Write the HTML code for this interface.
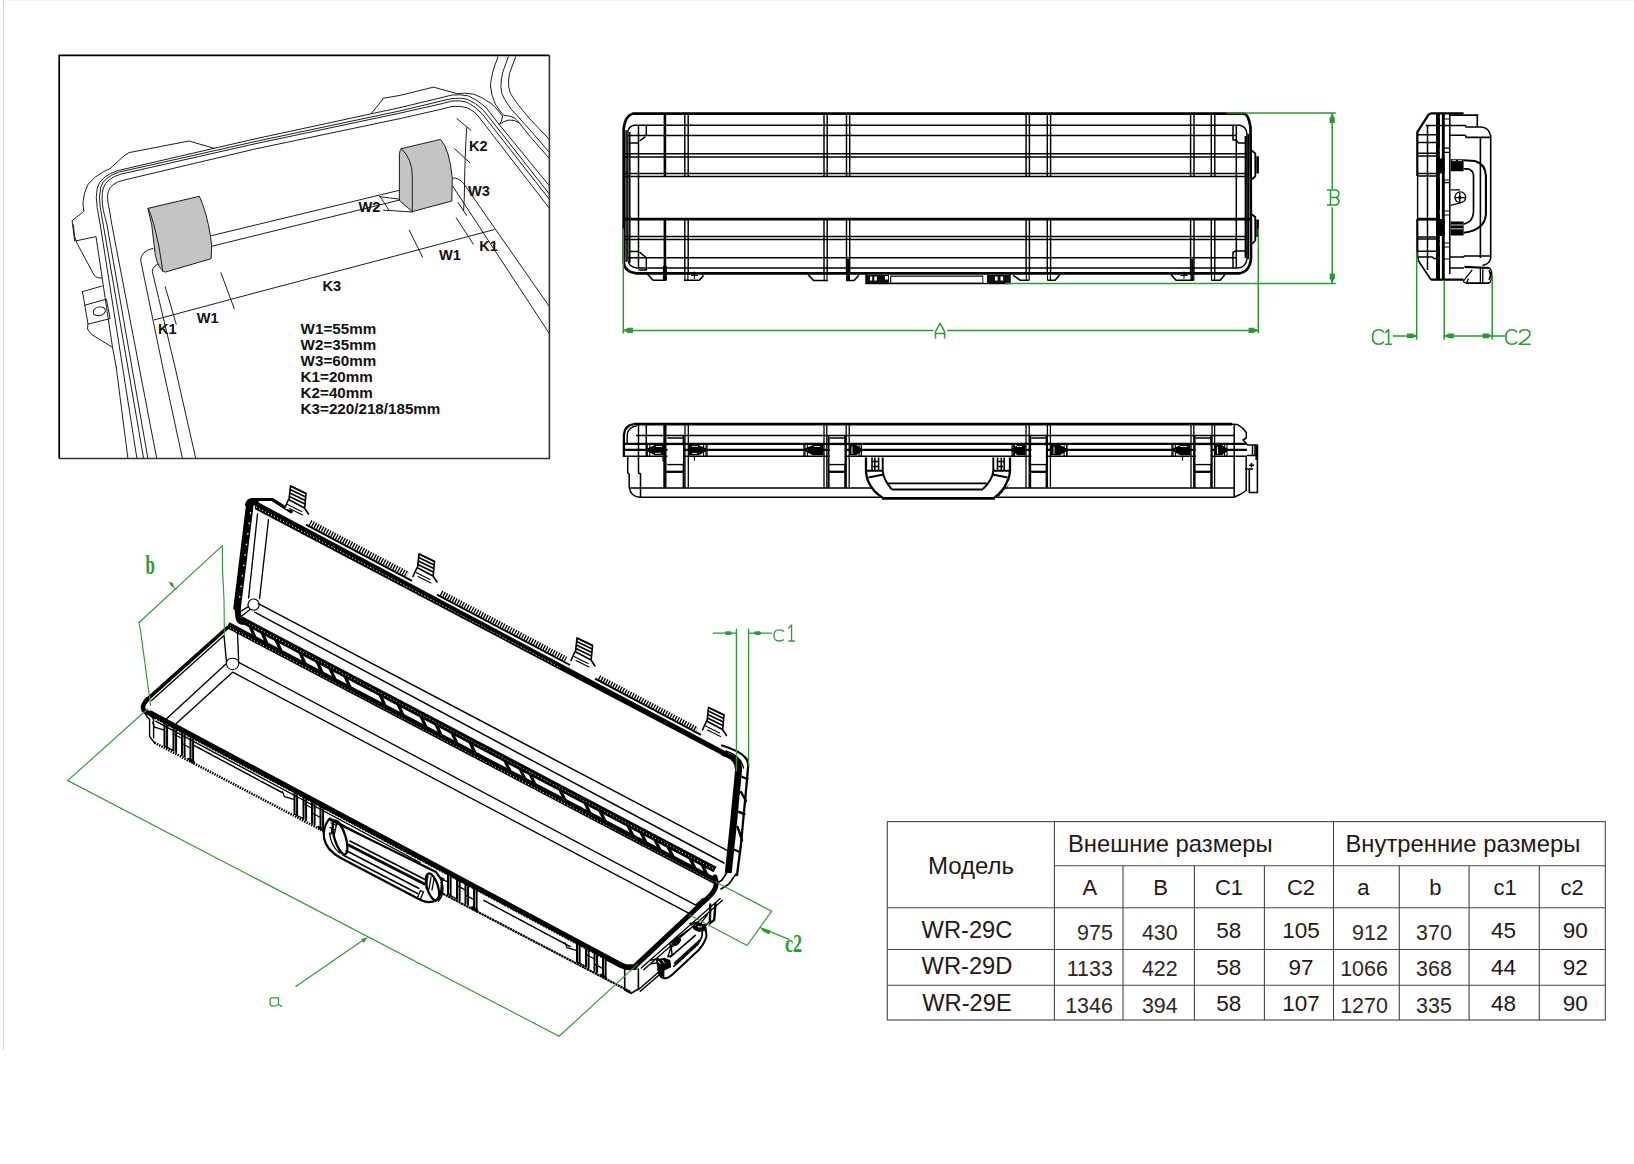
<!DOCTYPE html>
<html><head><meta charset="utf-8"><title>WR-29 dimensions</title>
<style>
html,body{margin:0;padding:0;background:#fff;}
body{width:1634px;height:1164px;overflow:hidden;font-family:"Liberation Sans",sans-serif;}
svg{display:block;position:absolute;left:0;top:0;}
svg{font-family:"Liberation Sans",sans-serif;}
</style></head><body>
<svg width="1634" height="1164" viewBox="0 0 1634 1164">
<!-- misc -->
<line x1="3.5" y1="0" x2="3.5" y2="1050" stroke="#d2d2d2" stroke-width="1"/><line x1="4" y1="0.5" x2="1634" y2="0.5" stroke="#f4f4f4" stroke-width="1"/>
<!-- inset -->
<defs><clipPath id="insclip"><rect x="59.2" y="55.3" width="490.2" height="403.2"/></clipPath></defs>
<g id="inset" clip-path="url(#insclip)" fill="none" stroke="#111" stroke-width="0.95" stroke-linecap="round" stroke-linejoin="round">
<path d="M 214.1 148.3 L 189 141 L 129.1 152.6 L 124.2 155.7 L 110.1 168.5 L 102.7 172.2 Q 94.2 176.5 88 184.5 Q 83.8 191.8 82.9 202.8 L 83.8 211.4 L 72.1 220.6 L 74.6 240.8 M 73.4 225 L 74.6 236 L 77 243.4 L 94.2 275.2 Q 96 277.9 101.5 278.2 M 75.8 240.9 L 96 236.6 L 112.5 347.4 L 116.2 367 M116.2 367 L128 459 M137 459 L100.3 225 L 97.2 207.7 Q 95.4 196.7 97.2 188.1 Q 100.3 175.9 118.6 170.4 L 214.1 148.3 L 255 138.9 L 400 107.6 L 440 98 L 452 95 Q 459.8 94.1 468.3 95.9 Q 477.3 99.8 485.7 107.1 L 489.9 112.5 L 499.2 124.5 L549.3 185.8 M143.7 459 L103.3 225 L 100.3 207.7 Q 98.1 196.7 100.9 186.9 Q 104 177.1 118.6 172.2 L 255 141.6 L 400 110.9 L 440 101.3 L 452 98.6 Q 459.8 97.6 467.1 99.2 Q 476.1 102.9 483.3 110.1 L 488.1 116.1 L549.3 194 M148 459 L107 225 L 103.3 210.2 Q 100.9 196.7 103.3 188.1 Q 106.4 178.3 121.1 174.1 L 255 143.8 L 400 113.1 L 440 104.1 L 452 101 Q 459.8 100.1 467.1 102.3 Q 475.5 106.5 482.1 113.7 L549.3 199.2 M156.8 459 L111.9 225 L 109.5 210.2 Q 106.4 197.9 108.2 191.8 Q 110.7 183.2 123.5 180.2 L 255 149 L 400 118.6 L 440 109.5 L 452 106.5 Q 459.8 105.6 467.1 107.7 Q 474.3 111.3 477.3 114.9 L549.3 208.2 M 452.6 178 Q 458.8 177.4 463.6 183.5 L549.3 306.5 M 452.6 186 L549.3 333.5 M 497.9 56.8 L 493 70.9 L 491.1 80 L 490.5 86 Q 491.1 95 495.3 104.1 L 500.7 111.9 L 503.7 115.2 L 509.2 116.1 L 514 117.6 Q 516.4 119.1 518.8 122.4 L 530 136.5 L549.3 158.4 M 508.3 56.8 L 502.8 72.1 L 501.3 80 Q 500.1 86 501.9 93.8 Q 504.9 101 511 108.9 L 530 129.9 L549.3 152.3 M 515.7 56.8 L 509.5 73.4 L 508.6 80 Q 508 87.2 510.4 93.2 Q 514 100.4 530 119.1 L549.3 139.5 M 502.5 116.1 L 501.9 119.1 L 501.3 121.5 L 499.2 124.5 Q 503.7 120.9 509.2 120 L 514.6 120.6 L 517.6 122.4 L 518.8 122.4 M 371.3 113.5 L 382.3 100 L383 98.3 L 400 95.4 L 433.7 87.1 L 440 89 L 456.8 93.5 Q 464.1 92.7 473.7 94.1 Q 482.1 97.1 491.1 103.5 Q 497.7 108.9 502.5 116.1 M 82.5 291.7 L 102.1 286 M 82.5 291.7 L 88 324.1 L 110.1 318.6 L 106.4 299.1 L 85 305.2 M 88 324.1 L 87.4 329 L 91.7 334.5 L 112.5 347.4 M 152.9 248.3 Q 140.7 251.3 140.7 260.5 L 162.7 367 L182.6 459 M 160.3 262.9 Q 152.3 266 152.3 271.5 L 175 367 L195.9 459 M 210.4 235.9 L 399.4 190.3 M211.5 246.3 L 399.4 200.1 M 154.1 319.9 L 255 292.9 L 400 254.7 L 494.2 229.6 M 165.2 286.8 L 176.2 324.1 M 220.9 272.7 L 234.3 308.8 M 409.2 230.2 L 422.6 257.1 M 456.3 217.9 L 473.4 244.3 M 458.1 202.6 L 466.7 215.5 M 466.7 127.8 Q 464.9 152.9 464.3 197 L 463.6 210.6 M 456.9 118.6 L 471 130.3 M 454.5 148.6 L 469.8 162.7 M 379.8 196.1 L 389 210.2 M 379.8 196.7 L 389.6 197.9 L 399.4 199.1 M 383.5 210.2 L 394.5 210.8 L 412.3 212"/>
<ellipse cx="99.3" cy="311.3" rx="6.2" ry="4.3" transform="rotate(-14 99.3 311.3)"/>
<path fill="#c4c4c4" d="M148.3 208.3 L199.4 196.3 Q 206.8 212.6 210.4 235.9 L 211.7 245.8 L 211.1 258.7 L 165.2 272.1 Q 159 270.3 155.4 255.6 L 151.7 225 Z"/>
<path d="M 148.3 208.3 Q 154.1 222.4 157.8 242 L 158.4 243.4 Q 161.5 261.7 162.7 271.3"/>
<path fill="#c4c4c4" d="M 401.3 148.7 L 440.4 139.4 Q 449.6 149 452.3 178.3 L 451.8 201 L 412.3 211.6 L 399.4 200.4 L 399.4 153.9 Q 399.7 150.2 401.3 148.7 Z"/>
<path d="M 401.3 148.7 Q 412.3 158.8 412.3 175.9 L 412.3 211.6"/>
</g>
<path d="M59.2 458.5 V55.3 H549.4" fill="none" stroke="#000" stroke-width="1.7"/>
<path d="M549.4 55.3 V458.5 H59.2" fill="none" stroke="#333" stroke-width="1.6"/>
<g font-family="Liberation Sans, sans-serif" font-weight="bold" font-size="14.6px" fill="#111">
<text x="469" y="151">K2</text>
<text x="468" y="195.5">W3</text>
<text x="358.5" y="212">W2</text>
<text x="479.3" y="250.5">K1</text>
<text x="439" y="260.3">W1</text>
<text x="322.5" y="290.8">K3</text>
<text x="158" y="334">K1</text>
<text x="196.8" y="323">W1</text>
</g>
<g font-family="Liberation Sans, sans-serif" font-weight="bold" font-size="15.2px" fill="#111">
<text x="300.6" y="333.9">W1=55mm</text>
<text x="300.6" y="349.83">W2=35mm</text>
<text x="300.6" y="365.76">W3=60mm</text>
<text x="300.6" y="381.69">K1=20mm</text>
<text x="300.6" y="397.62">K2=40mm</text>
<text x="300.6" y="413.55">K3=220/218/185mm</text>
</g>
<!-- topview -->
<g id="top" fill="none" stroke="#000" stroke-width="1.5" stroke-linecap="butt" stroke-linejoin="round">
<path stroke-width="2.7" d="M632.6 113.7 H1243.6 Q1248.5 114 1250.5 127.4 L1251 258 Q1250 272 1238.8 273.4 H636.5 Q624.5 272 623.7 262 V128.4 Q625 116 632.6 113.7Z"/>
<path stroke-width="1.5" d="M634.6 125.3 H1240 Q1246.5 127 1247 134 V259 Q1246 267 1238 268 H637 Q628.5 267 627.9 260 V131.3 Q629 126 634.6 125.3Z"/>
<path d="M626.1 130 V262 M629.8 132 V263 M638.5 126 V268 M1236.3 126 V268 M1248.3 134 V259" />
<path stroke-width="2" d="M1245.6 136 V258"/>
<line x1="628" y1="135.5" x2="1236.3" y2="135.5" stroke-width="1.6"/>
<line x1="628" y1="257.8" x2="1236.3" y2="257.8" stroke-width="1.6"/>
<line x1="624" y1="153.7" x2="1247" y2="153.7" stroke-width="1.5"/>
<line x1="624" y1="156.9" x2="1247" y2="156.9" stroke-width="1.5"/>
<line x1="624" y1="173.4" x2="1247" y2="173.4" stroke-width="1.5"/>
<line x1="624" y1="176.5" x2="1247" y2="176.5" stroke-width="1.5"/>
<line x1="624" y1="236.5" x2="1247" y2="236.5" stroke-width="1.5"/>
<line x1="624" y1="239.5" x2="1247" y2="239.5" stroke-width="1.5"/>
<line x1="624" y1="219.1" x2="1250" y2="219.1" stroke-width="2.8"/>
<path d="M684.8 114 V176.3 M684.8 219 V273.4" stroke-width="1.45"/>
<path d="M688.2 114 V176.3 M688.2 219 V273.4" stroke-width="1.45"/>
<path d="M824 114 V176.3 M824 219 V273.4" stroke-width="1.45"/>
<path d="M827.2 114 V176.3 M827.2 219 V273.4" stroke-width="1.45"/>
<path d="M846.5 114 V176.3 M846.5 219 V273.4" stroke-width="1.45"/>
<path d="M849.7 114 V176.3 M849.7 219 V273.4" stroke-width="1.45"/>
<path d="M1026.1 114 V176.3 M1026.1 219 V273.4" stroke-width="1.45"/>
<path d="M1029.4 114 V176.3 M1029.4 219 V273.4" stroke-width="1.45"/>
<path d="M1047.3 114 V176.3 M1047.3 219 V273.4" stroke-width="1.45"/>
<path d="M1050.6 114 V176.3 M1050.6 219 V273.4" stroke-width="1.45"/>
<path d="M1190.6 114 V176.3 M1190.6 219 V273.4" stroke-width="1.45"/>
<path d="M1194 114 V176.3 M1194 219 V273.4" stroke-width="1.45"/>
<path d="M1211.3 114 V176.3 M1211.3 219 V273.4" stroke-width="1.45"/>
<path d="M1214.8 114 V176.3 M1214.8 219 V273.4" stroke-width="1.45"/>
<path d="M664.9 114 V176.3 M664.9 219 V273.4" stroke-width="2.6"/>
<path stroke-width="1.5" d="M646.3 126 V135.5 M628.5 143.1 H638.5 M639.5 141 L645.5 136.7 M628.5 251.4 H638.5 M639.5 252 L646.3 257.8 V270 H638.5"/>
<path stroke-width="1.5" d="M1233 126 V140 H1236 L1238.5 143 H1246 M1233 268 V252 L1236 251 H1246"/>
<path stroke-width="1.8" d="M1251 150 L1255.3 153.4 V176.4 L1252 179.3 M1251 213.7 L1255.3 217 V240.5 L1252 244"/>
<path stroke-width="2.6" d="M1257.6 156.3 V173.4 M1257.6 219.5 V237"/>
<path stroke-width="1.6" d="M647.3 274 L653.2 280.3 H666 M684 280.3 H699.2 L703.6 275.4 M808 274.5 L813.5 280.5 H827.8 M846.1 280.5 H854.1 L858.9 275.3 M1013.2 275.3 L1020.4 280.3 H1029.2 M1047.5 280.3 H1055 L1060 274.5 M1171 274.5 L1176 280.3 H1193.9 M1211.5 280.3 H1220.2 L1225 274.5"/>
<path d="M684.9 273 V280.5" stroke-width="1.1"/>
<path d="M687.9 273 V280.5" stroke-width="1.1"/>
<path d="M824.2 273 V280.5" stroke-width="1.1"/>
<path d="M827 273 V280.5" stroke-width="1.1"/>
<path d="M846.6 273 V280.5" stroke-width="1.1"/>
<path d="M849.5 273 V280.5" stroke-width="1.1"/>
<path d="M1026.3 273 V280.5" stroke-width="1.1"/>
<path d="M1029.2 273 V280.5" stroke-width="1.1"/>
<path d="M1047.5 273 V280.5" stroke-width="1.1"/>
<path d="M1050.4 273 V280.5" stroke-width="1.1"/>
<path d="M1191 273 V280.5" stroke-width="1.1"/>
<path d="M1193.9 273 V280.5" stroke-width="1.1"/>
<path d="M1211.5 273 V280.5" stroke-width="1.1"/>
<path d="M1214.6 273 V280.5" stroke-width="1.1"/>
<path d="M664.9 266 V280.5" stroke-width="4"/>
<path d="M848.2 259 V280" stroke-width="2.2"/><path d="M1192.3 259 V280" stroke-width="2.2"/>
<path stroke-width="1" d="M694.3 271.5 V279 M691 275.4 H698 M1184 271.5 V279 M1180.5 275.4 H1187.5 M828.6 273 H839.8 M1037 273 H1048"/>
<rect x="866" y="273.3" width="144" height="10.3" stroke-width="1.5"/>
<rect x="890.7" y="276.1" width="92.3" height="7.2" stroke-width="1.1"/>
<path stroke="none" fill="#111" d="M866 275 H889 V283.6 H866Z M987 275 H1010 V283.6 H987Z"/>
<path stroke="none" fill="#fff" d="M870 276.5 h2.2 v4 h-2.2z M874.3 276.5 h2.6 v4 h-2.6z M885 276 h3 v3.5 h-3z M995 276.5 h2.6 v4 h-2.6z M1000.5 276.5 h2.6 v4 h-2.6z M983.5 276 h3 v6.5 h-3z"/>
</g>
<g id="topdim" fill="none" stroke="#2c9a33" stroke-width="1.5">
<path d="M623.3 228.4 V333.6 M1258.3 228.4 V333.6 M623.3 330.4 H933.3 M947.1 330.4 H1258.3"/>
<path d="M1226.5 113 H1335.8 M1005.5 283.4 H1335.8 M1332.2 113 V189.5 M1332.2 207.2 V283.4"/>
<path fill="#2c9a33" stroke="none" d="M624.0 329.7 L627.0 328.8 L627.6 327.8 L633.0 327.8 L633.0 333.0 L627.6 333.0 L627.0 332.0 L624.0 331.1Z M1257.6 331.1 L1254.6 332.0 L1254.0 333.0 L1248.6 333.0 L1248.6 327.8 L1254.0 327.8 L1254.6 328.8 L1257.6 329.7Z M1332.9 114.0 L1333.8 117.0 L1334.8 117.6 L1334.8 123.0 L1329.6 123.0 L1329.6 117.6 L1330.6 117.0 L1331.5 114.0Z M1331.5 282.6 L1330.6 279.6 L1329.6 279.0 L1329.6 273.6 L1334.8 273.6 L1334.8 279.0 L1333.8 279.6 L1332.9 282.6Z"/>
<path stroke-width="1.5" stroke-linejoin="round" d="M935.5 338.5 V331.7 L940.2 323.3 L944.6 331.7 V338.5 M935.5 333.5 H944.6"/>
<path stroke-width="1.5" stroke-linejoin="round" d="M1327 189.9 H1336 Q1338.9 190.5 1338.9 193.6 Q1338.9 197 1335.5 197.6 H1330.5 M1335.5 197.6 Q1338.9 198.4 1338.9 201.3 Q1338.9 204.5 1336 204.9 H1327 M1330.5 189.9 V204.9"/>
</g>
<!-- sideview -->
<g id="side" fill="none" stroke="#000" stroke-width="1.6" stroke-linejoin="round">
<path stroke-width="2.2" d="M1417.3 176 V132.2 L1428.4 114.8 L1431 113.4 H1463.6 M1417.3 219 V253.5"/>
<path stroke-width="1.4" d="M1417.6 176 V219"/>
<path stroke-width="1.6" d="M1417.2 253 L1418.5 261 L1431 279.7"/>
<path stroke-width="2.3" d="M1431 279.7 H1463.6"/>
<path stroke-width="4" d="M1438 114 V279"/>
<path stroke-width="2.9" d="M1443.3 114 V279"/>
<path stroke-width="1.5" d="M1449.8 114 V274"/>
<path stroke="none" fill="#000" d="M1436 158.5 H1444.7 V173.5 H1436Z M1436 219 H1444.7 V236 H1436Z"/>
<path stroke-width="1.5" d="M1427.5 125.4 V270 M1425.8 125.4 H1465.3 L1466.2 127.1 H1481.6 Q1489 128 1490.2 135.2 M1417.5 134.8 H1437 M1417.5 142.5 H1437 M1417.5 153.3 H1437 M1417.5 155.9 H1437 M1417.5 173.6 H1437 M1417.5 176.1 H1437 M1417.5 237.1 H1437 M1417.5 238.9 H1437 M1417.5 251.3 H1437 M1417.5 256.9 H1432 L1434 258.5 H1437"/>
<path stroke-width="2.8" d="M1417 219.2 H1437.8"/>
<path stroke-width="1.6" d="M1449.8 115.1 H1478.2 M1477.3 115.1 V126.8 M1449.8 135.2 H1465.3 L1466.2 137.4 H1490.2 M1480.4 137.4 V258 M1490.7 135 V258 Q1490 264 1482.5 265.5"/>
<path stroke-width="1.5" d="M1449.8 256.9 H1463.6 L1464.5 256 H1490.5 M1449.8 268 H1464"/>
<path stroke-width="1.2" d="M1444 119 H1449.5 M1444 148.2 H1449.5 M1444 152.4 H1449.5 M1444 180 H1449.5 M1444 182.6 H1449.5 M1444 211 H1449.5 M1444 215 H1449.5 M1444 243 H1449.5 M1444 247 H1449.5 M1444 259 H1449.5"/>
<path stroke-width="1" stroke="#fff" d="M1440.3 116 V118.5 M1440.3 148 V152 M1440.3 153.5 V156 M1440.3 174.5 V178 M1440.3 210 V214 M1440.3 237 V240 M1440.3 242 V246"/>
<path stroke="none" fill="#000" d="M1450.7 159.3 H1463.6 V171.3 H1450.7Z M1450.7 221.6 H1463.6 V235.4 H1450.7Z"/>
<path stroke="#fff" stroke-width="0.8" d="M1452 160.6 H1456 M1458 160.6 H1462 M1451 225 H1463 M1451 228.8 H1463"/>
<path stroke-width="2.1" d="M1463.6 160.3 L1475 161 Q1485.5 164 1485.9 176 V214 Q1485 230 1463.6 232.8"/>
<path stroke-width="1.7" d="M1463.6 168.8 H1468 Q1473 170 1473.5 175 V212.2 Q1473 222 1463.6 224.2"/>
<path stroke-width="1.3" d="M1450.7 189.8 H1460 M1450.7 205.3 L1460.5 202.8"/>
<circle cx="1460.3" cy="197.3" r="5.4" stroke-width="1.3"/>
<path stroke-width="1.4" d="M1455 197.6 H1465.5 M1459.8 192.5 V202.5"/>
<circle cx="1459.8" cy="197.6" r="1.8" fill="#000" stroke="none"/>
<path stroke-width="2.2" d="M1464.4 266.8 L1489.5 268"/>
<path stroke-width="1.8" d="M1466 283.1 H1489.4"/>
<path stroke-width="1.3" d="M1489.5 268 Q1492.5 271 1491.6 275.5 Q1491.5 281 1489.4 283.1 M1472.2 269.8 L1464.5 279.7 M1464.5 279.7 Q1462 282 1466 283.1 M1468.5 278.5 L1466.5 283 M1480.4 268 V283 M1482.8 268 V283 M1489 270 L1491.5 279 M1491.5 271 L1489 280"/>
</g>
<g id="sidedim" fill="none" stroke="#2c9a33" stroke-width="1.5">
<path d="M1416.7 252.6 V339.8 M1444.2 280.6 V339.8 M1492.2 274.9 V339.8 M1393 335.9 H1416.7 M1444.2 335.9 H1505.4"/>
<path fill="#2c9a33" stroke="none" d="M1416.0 336.6 L1413.5 337.5 L1413.0 338.3 L1407.0 338.3 L1407.0 333.5 L1413.0 333.5 L1413.5 334.3 L1416.0 335.2Z M1445.0 335.2 L1447.5 334.3 L1448.0 333.5 L1454.0 333.5 L1454.0 338.3 L1448.0 338.3 L1447.5 337.5 L1445.0 336.6Z M1491.5 336.6 L1489.0 337.5 L1488.5 338.3 L1482.5 338.3 L1482.5 333.5 L1488.5 333.5 L1489.0 334.3 L1491.5 335.2Z"/>
<path stroke-width="1.6" stroke-linejoin="round" d="M1383.7 332.5 Q1382.5 329.8 1378.5 329.8 Q1372.6 329.8 1372.6 337 Q1372.6 344.2 1378.5 344.2 Q1382.5 344.2 1383.7 341.5 M1385 333 L1388.6 329.8 V344.2 M1385 344.2 H1392"/>
<path stroke-width="1.6" stroke-linejoin="round" d="M1517 332.5 Q1515.8 329.8 1511.8 329.8 Q1505.9 329.8 1505.9 337 Q1505.9 344.2 1511.8 344.2 Q1515.8 344.2 1517 341.5 M1519.6 333.2 Q1520 329.8 1524.8 329.8 Q1530 329.8 1530 334 Q1530 337.2 1519.3 344.2 H1530.7"/>
</g>
<!-- frontview -->
<g id="front" fill="none" stroke="#000" stroke-width="1.5" stroke-linejoin="round">
<path stroke-width="2.8" d="M633.6 424.2 H1232"/>
<path stroke-width="2.3" d="M623.9 457 V434.6 Q625 425.5 633.6 424.2"/>
<path stroke-width="1.4" d="M627.2 443 V434.5 Q628.5 427 636.5 426"/>
<path stroke-width="1.6" d="M636 435.5 H1234 M624 456.3 H1247"/>
<path stroke-width="2.2" d="M624 443.9 H1247"/>
<path stroke-width="2.4" d="M624 449.9 H1247"/>
<path stroke-width="1.5" d="M627.7 457 V472.8 L629.2 474 V487.5 Q630.5 496 639.5 497.3 H1234 M638.5 425 V472.8 L640.5 474 V497.3 M646.3 425 V457 M629.2 488 H1234.5"/>
<path stroke-width="3.2" d="M664.9 425 V488"/>
<path stroke-width="1.3" d="M685 425 V488"/>
<path stroke-width="1.3" d="M688.3 425 V488"/>
<path stroke-width="1.3" d="M824 425 V488"/>
<path stroke-width="1.3" d="M826.8 425 V488"/>
<path stroke-width="1.3" d="M846.2 425 V488"/>
<path stroke-width="1.3" d="M849.2 425 V488"/>
<path stroke-width="1.3" d="M1026 425 V488"/>
<path stroke-width="1.3" d="M1029.2 425 V488"/>
<path stroke-width="1.3" d="M1047.4 425 V488"/>
<path stroke-width="1.3" d="M1050.4 425 V488"/>
<path stroke-width="1.3" d="M1191 425 V488"/>
<path stroke-width="1.3" d="M1193.8 425 V488"/>
<path stroke-width="1.3" d="M1212 425 V488"/>
<path stroke-width="1.3" d="M1214.6 425 V488"/>
<path stroke-width="2" d="M828.6 436 V488"/>
<path stroke-width="2" d="M845.2 436 V488"/>
<path stroke-width="2" d="M1030.2 436 V488"/>
<path stroke-width="2" d="M1046.6 436 V488"/>
<path stroke-width="2" d="M1194.6 436 V488"/>
<path stroke-width="2" d="M1211.2 436 V488"/>
<path stroke-width="2" d="M683.6 436 V488"/>
<path stroke-width="1.5" d="M667.3 438 H683.2 M667.3 444.4 H683.2 M667.3 464.5 H683.2"/>
<path stroke-width="2.3" d="M665.8 471.8 H684.7"/>
<path stroke="none" fill="#fff" d="M667.5 445.4 H683 V463.6 H667.5 Z"/>
<path stroke-width="1.5" d="M829.6 438 H844.6 M829.6 444.4 H844.6 M829.6 464.5 H844.6"/>
<path stroke-width="2.3" d="M828.1 471.8 H846.1"/>
<path stroke="none" fill="#fff" d="M829.8 445.4 H844.4 V463.6 H829.8 Z"/>
<path stroke-width="1.5" d="M1031.2 438 H1046 M1031.2 444.4 H1046 M1031.2 464.5 H1046"/>
<path stroke-width="2.3" d="M1029.7 471.8 H1047.5"/>
<path stroke="none" fill="#fff" d="M1031.4 445.4 H1045.8 V463.6 H1031.4 Z"/>
<path stroke-width="1.5" d="M1195.6 438 H1210.6 M1195.6 444.4 H1210.6 M1195.6 464.5 H1210.6"/>
<path stroke-width="2.3" d="M1194.1 471.8 H1212.1"/>
<path stroke="none" fill="#fff" d="M1195.8 445.4 H1210.4 V463.6 H1195.8 Z"/>
<path stroke="none" fill="#000" d="M665 444.9 H654.734 L647.3 448.6 V451.2 L654.734 455.2 H665 Z"/>
<path stroke-width="1.1" d="M647.3 444.4 V456 M649.7 444.4 V456"/>
<path stroke="none" fill="#000" d="M689 444.9 H698.86 L706 448.6 V451.2 L698.86 455.2 H689 Z"/>
<path stroke-width="1.1" d="M706 444.4 V456 M703.6 444.4 V456"/>
<path stroke="none" fill="#000" d="M823.5 444.9 H812.77 L805 448.6 V451.2 L812.77 455.2 H823.5 Z"/>
<path stroke-width="1.1" d="M805 444.4 V456 M807.4 444.4 V456"/>
<path stroke="none" fill="#000" d="M849.5 444.9 H856.46 L861.5 448.6 V451.2 L856.46 455.2 H849.5 Z"/>
<path stroke-width="1.1" d="M861.5 444.4 V456 M859.1 444.4 V456"/>
<path stroke="none" fill="#000" d="M1025.5 444.9 H1017.67 L1012 448.6 V451.2 L1017.67 455.2 H1025.5 Z"/>
<path stroke-width="1.1" d="M1012 444.4 V456 M1014.4 444.4 V456"/>
<path stroke="none" fill="#000" d="M1051 444.9 H1059.99 L1066.5 448.6 V451.2 L1059.99 455.2 H1051 Z"/>
<path stroke-width="1.1" d="M1066.5 444.4 V456 M1064.1 444.4 V456"/>
<path stroke="none" fill="#000" d="M1190.5 444.9 H1180.35 L1173 448.6 V451.2 L1180.35 455.2 H1190.5 Z"/>
<path stroke-width="1.1" d="M1173 444.4 V456 M1175.4 444.4 V456"/>
<path stroke="none" fill="#000" d="M1215 444.9 H1221.96 L1227 448.6 V451.2 L1221.96 455.2 H1215 Z"/>
<path stroke-width="1.1" d="M1227 444.4 V456 M1224.6 444.4 V456"/>
<path stroke="#fff" stroke-width="0.9" d="M656 446.5 H662 M655 453.3 H661 M692 446.3 H698 M692 453.4 H697 M814 446.5 H820 M852 446.5 V454 M1017 446.5 H1022 M1054 446.6 V454 M1180 446.6 H1187 M1217.5 447 V454"/>
<path stroke-width="1.2" d="M663 457 V461.5 M694.4 457 V460.5 M1182.5 457 V460.5"/>
<path stroke-width="1.3" d="M861.3 444.4 V456 M1013.2 444.4 V456 M707 444.4 V456 M804 444.4 V456 M1067 444.4 V456 M1172 444.4 V456"/>
<path stroke="none" fill="#fff" d="M866 457.5 V470.7 Q866.5 478 868.4 481.8 Q873 492 882.7 498.4 H994.1 Q1003 492 1007 481.8 Q1009.5 478 1010 470.7 V457.5 Z"/>
<path stroke-width="2.3" d="M866 457.5 V470.7 Q866.5 478 868.4 481.8 Q873 492 882.7 497.7 M1010 457.5 V470.7 Q1009.5 478 1007 481.8 Q1003 492 994.1 497.7"/>
<path stroke-width="2.6" d="M882 498.4 H995"/>
<path stroke-width="1.9" d="M882.7 457.5 V470.7 Q883.5 480 891.5 489 M993.3 457.5 V470.7 Q992.5 480 983 489 M888 483.4 H986.5 M891.5 489.5 H983 M866 470.7 H882.7 M993.3 470.7 H1010 M868.5 477.5 L883.5 474.5 M1007.5 477.5 L992.5 474.5"/>
<path stroke-width="1.6" d="M872 457.5 V470 M874.8 457.5 V470 M878.6 457.5 V470 M997.5 457.5 V470 M1001.3 457.5 V470 M1004.2 457.5 V470 M872 461.5 H878.6 M997.5 461.5 H1004.2 M873 466.5 H878 M998 466.5 H1003"/>
<path stroke-width="1" d="M995.5 496.5 L1007.5 483 M997.5 497.5 L1009 484.5" stroke-dasharray="1.2 0.8"/>
<path stroke-width="1.5" d="M1232 424.2 L1237.5 424.6 L1242.5 428 L1246.3 432.5 V438 L1243 440 L1247 444 M1234.2 425 V497.3 M1234 497.3 L1241 494 L1246.2 490.5 V457"/>
<path stroke-width="1.5" d="M1247 445 H1257.5 V460 M1247 455.5 H1257.5 M1252.5 445 V456 M1255 445 V456"/>
<path stroke-width="1.6" d="M1249.3 468.5 V492.5 H1257.4 V460 M1245 469 H1253 M1251.5 463 V467.5 M1249.3 465.3 H1254"/>
<path stroke-width="2.4" d="M1256.6 446 V460"/>
</g>
<!-- iso -->
<g id="iso" fill="none" stroke="#000" stroke-linecap="round" stroke-linejoin="round">
<path stroke="none" fill="#000" d="M255.0 500.6 L735.0 756.3 L735.0 761.9 L255.0 509.2 Z"/>
<path stroke="#fff" stroke-width="1" stroke-dasharray="1.2 2.2" stroke-linecap="butt" d="M256.0 507.0 L560.0 667.6"/>
<path stroke-width="1.9" stroke-linecap="butt" d="M306.0 524.7 L412.0 580.8"/>
<path stroke-width="5.8" stroke-dasharray="1.35 1.35" stroke-linecap="butt" d="M310.0 522.6 L408.0 574.5"/>
<path stroke-width="1.9" stroke-linecap="butt" d="M437.0 594.6 L570.0 665.0"/>
<path stroke-width="5.4" stroke-dasharray="1.35 1.35" stroke-linecap="butt" d="M441.0 592.9 L566.0 659.1"/>
<path stroke-width="1.9" stroke-linecap="butt" d="M595.0 678.7 L701.0 734.9"/>
<path stroke-width="4.9" stroke-dasharray="1.35 1.35" stroke-linecap="butt" d="M599.0 677.4 L697.0 729.3"/>
<path stroke-width="3.4" d="M272.5 499.6 L291 511.5"/>
<path stroke="#fff" stroke-width="1" stroke-dasharray="1.2 1.6" stroke-linecap="butt" d="M262 503.5 L290 518"/>
<path stroke-width="3" d="M272.5 499.4 H251.5 Q247.5 500 246.4 504.8"/>
<path stroke-width="7.6" stroke-linecap="butt" d="M249.9 504.4 L236.9 609.6"/>
<path stroke-width="6" stroke-linecap="butt" d="M249 506.5 Q250.5 500.5 258 503"/>
<path stroke="#fff" stroke-width="1.3" stroke-dasharray="1.6 9" stroke-linecap="butt" d="M250.6 512 L238.6 606"/>
<circle cx="253.6" cy="604.6" r="5.6" stroke-width="1.2"/>
<path stroke-width="1.45" d="M258.3 603.7 L726.6 850.2 M254.6 612.2 L724.0 863.0"/>
<path stroke-width="7" stroke-linecap="butt" d="M733 757.6 Q738.6 761.5 738.6 770 L732.6 832 L728.2 873"/>
<path stroke-width="2.3" d="M722 745.5 Q741 751 746.5 759 Q748.6 762 748 768 L746.6 784 L740.8 846 L737 875"/>
<path stroke-width="1.4" d="M726 751 Q741.5 756.5 743.4 768 M722 755 Q738 759 740.5 771"/>
<path stroke-width="2.4" d="M742.4 777 L747.5 779 M741 792 L746 801 M739 812 L744.4 814 M737.6 827 L742 840 M735 850 L740 852"/>
<path stroke-width="1.6" fill="#fff" d="M284.5 508.5 l4 -9 l16 8.5 l4 6 M289.0 500.0 l1.5 -14 l15.5 7.5 l-1.3 14"/>
<path stroke-width="1.5" d="M290.5 486.0 l15.5 7.5 M290.2 489.5 l15.5 7.5 M289.8 493.0 l15.5 7.5 M289.4 496.5 l15.5 7.5"/>
<path stroke-width="1.1" d="M287.5 504.5 l14 7 M289.5 508.5 l13 6.5"/>
<path stroke-width="1.6" fill="#fff" d="M413.0 576.5 l4 -9 l16 8.5 l4 6 M417.5 568.0 l1.5 -14 l15.5 7.5 l-1.3 14"/>
<path stroke-width="1.5" d="M419.0 554.0 l15.5 7.5 M418.7 557.5 l15.5 7.5 M418.3 561.0 l15.5 7.5 M417.9 564.5 l15.5 7.5"/>
<path stroke-width="1.1" d="M416.0 572.5 l14 7 M418.0 576.5 l13 6.5"/>
<path stroke-width="1.6" fill="#fff" d="M571.0 660.5 l4 -9 l16 8.5 l4 6 M575.5 652.0 l1.5 -14 l15.5 7.5 l-1.3 14"/>
<path stroke-width="1.5" d="M577.0 638.0 l15.5 7.5 M576.7 641.5 l15.5 7.5 M576.3 645.0 l15.5 7.5 M575.9 648.5 l15.5 7.5"/>
<path stroke-width="1.1" d="M574.0 656.5 l14 7 M576.0 660.5 l13 6.5"/>
<path stroke-width="1.6" fill="#fff" d="M702.5 730.0 l4 -9 l16 8.5 l4 6 M707.0 721.5 l1.5 -14 l15.5 7.5 l-1.3 14"/>
<path stroke-width="1.5" d="M708.5 707.5 l15.5 7.5 M708.2 711.0 l15.5 7.5 M707.8 714.5 l15.5 7.5 M707.4 718.0 l15.5 7.5"/>
<path stroke-width="1.1" d="M705.5 726.0 l14 7 M707.5 730.0 l13 6.5"/>
<path stroke-width="6.4" stroke-linecap="butt" d="M241.0 619.4 L715.0 869.5"/>
<path stroke-width="6.4" stroke-linecap="butt" d="M228.0 625.2 L717.0 881.9"/>
<path stroke="#fff" stroke-width="0.9" stroke-dasharray="1 2.4" stroke-linecap="butt" d="M243.0 620.7 L713.7 869.0"/>
<path stroke="#fff" stroke-width="0.9" stroke-dasharray="1 2.4" stroke-linecap="butt" d="M230.0 627.9 L716.0 883.0"/>
<path stroke-width="3.2" stroke-linecap="butt" d="M250.0 626.2 L255.0 637.4 M262.0 632.5 L267.0 643.7 M276.0 639.9 L281.0 651.0 M300.0 652.5 L305.0 663.6 M317.0 661.5 L322.0 672.5 M330.0 668.4 L335.0 679.4 M345.0 676.3 L350.0 687.2 M380.0 694.7 L385.0 705.6 M398.0 704.2 L403.0 715.1 M421.0 716.4 L426.0 727.1 M436.0 724.3 L441.0 735.0 M452.0 732.7 L457.0 743.4 M470.0 742.2 L475.0 752.9 M505.0 760.7 L510.0 771.2 M520.0 768.6 L525.0 779.1 M530.0 773.9 L535.0 784.4 M560.0 789.7 L565.0 800.1 M585.0 802.9 L590.0 813.2 M600.0 810.8 L605.0 821.1 M628.0 825.6 L633.0 835.8 M641.0 832.5 L646.0 842.6 M655.0 839.8 L660.0 850.0 M668.0 846.7 L673.0 856.8 M690.0 858.3 L695.0 868.4 M702.0 864.6 L707.0 874.7"/>
<path stroke-width="6" stroke-linecap="butt" d="M237.2 607 L238.6 618 Q240 623.5 246 621"/>
<path stroke-width="3.6" d="M227.5 627.5 L147.5 699.1"/>
<path stroke-width="4.6" d="M147.5 699.1 Q142.6 704.5 143 708 Q143.4 712.5 150.8 713.4"/>
<path stroke-width="5.8" d="M150.8 713.6 L621 965.2 Q626 967.8 630 967.2 H634.5"/>
<path stroke="#fff" stroke-width="1" stroke-dasharray="1.3 1.8" stroke-linecap="butt" d="M156.0 719.5 L606.0 960.1"/>
<path stroke-width="1.4" d="M156.0 721.3 L420.0 862.5"/>
<path stroke-width="5" d="M634.5 966.6 L709 896.8 Q716.3 889.5 716.3 883 L715 877"/>
<path stroke-width="1.1" d="M226.5 662.4 A6.2 6.2 0 1 0 238.7 662.4 A6.2 5 0 0 0 226.5 662.4"/>
<path stroke-width="2.5" stroke-dasharray="1.5 1.1" stroke-linecap="butt" d="M154.5 742.7 L330.0 834.6"/>
<path stroke-width="2.2" stroke-dasharray="2.4 0.5" stroke-linecap="butt" d="M330.0 834.6 L631.0 992.1"/>
<path stroke-width="1.4" d="M144 712 L146.5 716 L149.6 719.5 V736.6 L154.5 742.7 M151 714.5 L153.6 720 V738"/>
<path stroke-width="1.6" d="M624.7 968 V990 M638.4 969 V989 L631 993.4 L624.7 990"/>
<path stroke-width="1.5" stroke-dasharray="3 1" d="M193.6 745.2 L282.0 792.5"/>
<path stroke-width="1.5" stroke-dasharray="3 1" d="M330.0 818.2 L444.0 879.1"/>
<path stroke-width="1.5" stroke-dasharray="3 1" d="M484.0 900.5 L570.0 946.5"/>
<path stroke-width="2" d="M164.5 724.2 V745.9 M167.1 725.6 V747.3 M173.5 729.0 V750.6 M176.1 730.4 V752.0 M182.0 733.5 V755.1 M184.6 734.9 V756.5 M190.5 738.1 V761.5 M193.1 739.5 V762.9"/>
<path stroke-width="1.3" d="M173.5 734.0 l9 4.8 M182.0 743.5 l8.5 4.5 M164.5 745.9 l8.5 4.5 M164.5 730.2 l-10 -3 l-2 -5"/>
<path stroke-width="2.4" d="M188.5 759.0 l5 2.6"/>
<path stroke-width="2" d="M294.5 793.7 V814.0 M297.1 795.1 V815.4 M303.5 798.5 V818.7 M306.1 799.9 V820.1 M312.0 803.0 V823.2 M314.6 804.4 V824.6 M320.5 807.6 V829.6 M323.1 809.0 V831.0"/>
<path stroke-width="1.3" d="M303.5 803.5 l9 4.8 M312.0 813.0 l8.5 4.5 M294.5 814.0 l8.5 4.5 M294.5 799.7 l-10 -3 l-2 -5"/>
<path stroke-width="2.4" d="M318.5 827.1 l5 2.6"/>
<path stroke-width="2" d="M448.0 875.7 V894.3 M450.6 877.1 V895.7 M457.0 880.6 V899.1 M459.6 882.0 V900.5 M465.5 885.1 V903.5 M468.1 886.5 V904.9 M474.0 889.6 V910.0 M476.6 891.0 V911.4"/>
<path stroke-width="1.3" d="M457.0 885.6 l9 4.8 M465.5 895.1 l8.5 4.5 M448.0 894.3 l8.5 4.5 M448.0 881.7 l-10 -3 l-2 -5"/>
<path stroke-width="2.4" d="M472.0 907.4 l5 2.6"/>
<path stroke-width="2" d="M577.0 944.7 V961.9 M579.6 946.1 V963.3 M586.0 949.5 V966.6 M588.6 950.9 V968.0 M594.5 954.1 V971.0 M597.1 955.5 V972.4 M603.0 958.6 V977.5 M605.6 960.0 V978.9"/>
<path stroke-width="1.3" d="M586.0 954.5 l9 4.8 M594.5 964.1 l8.5 4.5 M577.0 961.9 l8.5 4.5 M577.0 950.7 l-10 -3 l-2 -5"/>
<path stroke-width="2.4" d="M601.0 974.9 l5 2.6"/>
<path stroke-width="2.2" fill="#fff" d="M329 819.2 Q322.5 828 324 838 Q326 850 341.2 858.3 L418.3 898.7 Q428 905 436.5 900 Q443 894 441.5 880 L436 872 Z"/>
<path stroke-width="2.8" d="M348.5 845 L424.5 884"/>
<path stroke-width="1.6" d="M346 850.5 L419 888.5 M343 855 L417.5 893.5 M350 841 L425 879.5"/>
<ellipse cx="340" cy="837.5" rx="5.6" ry="17.5" transform="rotate(-17 340 837.5)" stroke-width="2.3"/>
<path stroke-width="1.3" d="M331 823 l5.5 2.5 M330 827.5 l5 2.5 M334 820 l-3 14 M337 822 l-3 14 M329.5 833 Q331 846 339.5 853"/>
<ellipse cx="432.5" cy="887" rx="5.5" ry="14" transform="rotate(-17 432.5 887)" stroke-width="2.3"/>
<path stroke-width="1.3" d="M428 876 l-2 12 M431 877 l-2 12 M434 879 l-2 11 M417 898.5 l3.5 -8 l3 1.5 l-3.5 8 M441 878 Q446 893 438.5 901"/>
<path stroke-width="2" d="M 705.6 927.6 L 706.5 936.2 Q 704.7 943.1 698.7 950 L 673 974 Q 667.8 978.8 664.4 978.3 Q 659.6 977.5 658.8 972.3 L 658.4 968.9"/>
<path stroke-width="1.7" d="M 689.3 929.4 L 670.4 943.1 Q 669.1 946.5 673 946.5 M 695.3 935.4 L 670.4 956.9 M 690.1 923.4 L 705.6 925.1 M 702.2 931.9 Q 703 938 697 944.8 L 673.8 966.3 M 700.4 939.7 L 674.7 962.9"/>
<path stroke-width="2.6" stroke-dasharray="1.2 1.1" stroke-linecap="butt" d="M 698.7 943.1 L 674.7 964.6"/>
<path stroke="none" fill="#000" d="M 690.1 923.4 L 697 921.6 L 705.6 925.1 L 705.6 931.1 L 698.7 931.9 L 693.6 929.4 Z M 655.8 959.4 L 664.4 957.7 L 670.4 960.3 L 671.2 967.2 L 664.4 970.6 L 664.4 977.5 L 659.2 974.9 L 657.5 968.9 Z"/>
<path stroke="#fff" stroke-width="1" d="M 691.9 925.1 L 695.3 925.1 M 697.9 926.8 L 701.3 926.8 M 658.4 961.2 L 660.1 963.7 M 662.6 960.3 L 664.4 962.9"/>
<ellipse cx="676.4" cy="941.8" rx="5.4" ry="3.2" transform="rotate(-40 676.4 941.8)" fill="#000" stroke="none"/>
<path stroke-width="1.4" d="M 671.2 946.5 L 667.8 956.9 L 672.1 955.1 Z M 650.6 960.3 L 658.4 958.6 M 651.5 963.7 L 657.5 962.9"/>
<path stroke-width="2.4" d="M 710.3 904.5 L 709.9 920.8 M 715.5 903.6 L 714.2 919.9 L 709.9 923.4"/>
<path stroke-width="1.3" d="M 720.2 898.4 L 641.2 968 M 722.4 900.2 L 643.7 969.7 M 707.3 914.8 L 701.3 922.5 M 709.9 920.8 L 705.6 925.9"/>
<path stroke-width="1.5" d="M 638.6 989.5 L 658.4 972.3 M 640.3 991.2 L 659.6 974.5"/>
<path stroke-width="1.6" d="M727.2 872 L722 880 L716 884 M736 874 L729 884 L721 889"/>
<path stroke-width="1.35" d="M257.5 514.0 L248.6 598.0 M268.5 519.5 L259.6 598.5 M240.5 611.5 L248.4 606.6 M238.0 619.0 L250.0 609.5 M224.0 635.6 L151.5 700.5 M224.0 635.5 L226.5 662.4 M237.5 633.0 L238.7 662.4 M226.5 663.6 L166.5 718.7 M232.6 672.2 L176.3 723.6 M238.7 662.4 L695.7 905.1 M232.6 672.2 L689.6 913.6 M695.7 905.1 L703.0 898.5 M689.6 913.6 L694.0 909.5"/>
</g>
<g id="isodim" fill="none" stroke="#2c9a33" stroke-width="1.15" stroke-linecap="round">
<path d="M222.4 545.6 V566.8 L224 600 L224.4 634 M222.4 545.6 L138.8 622.8 L140.2 628.2 L150.6 705.5 M147.6 709 L67.7 780.6 L559.1 1036.2 L637.5 964.4 M295.8 986.5 L364 939.5"/>
<path stroke-width="1.3" d="M736.4 629.1 V770.8 M748.6 629.1 V765.5 M713.2 633.1 H736.4 M748.6 633.1 H771.6"/>
<path stroke-width="3.6" stroke-linecap="round" d="M726.6 633.1 H730 M755.9 633.1 H759.3"/>
<path d="M715.3 881.8 L771.6 911.2 L747.1 945.5 L689.6 914.9 M760.6 927.7 L789 939.4"/>
<path fill="#2c9a33" stroke="none" d="M367.9 937.1 L361 939.2 L363.6 943Z M760.5 927.6 L770.6 930.6 L769.2 934.6 L763 931.6Z M168.5 581.5 L172.8 583 L174.6 588 L171 586Z"/>
<path d="M174.6 588 L176 589.5"/>
</g>
<g fill="#2c9a33" font-family="Liberation Serif, serif">
<text x="0" y="0" font-size="28px" font-weight="bold" transform="translate(145.6 574) scale(0.6 1)">b</text>
<text x="0" y="0" font-size="25.7px" font-weight="bold" transform="translate(785 951.7) scale(0.71 1)">c2</text>
</g>
<g fill="none" stroke="#2c9a33" stroke-width="1.3" stroke-linecap="round" stroke-linejoin="round">
<path d="M783.7 631.2 Q782 629.9 779 629.9 Q773.9 629.9 773.9 635.5 Q773.9 641 779 641 Q782 641 783.7 639.8 M788.8 628 L791.6 625 V641 M788.8 641 H794.4"/>
<path stroke-width="1.2" d="M278.5 997.8 H271.6 Q270.1 998 270.1 1000 V1004 Q270.4 1006.2 273 1006.2 Q276 1006.4 278.5 1004.4 V997.8 M278.5 1004.4 L281.8 1006.5"/>
</g>
<!-- table -->
<g id="tbl" fill="none" stroke="#4a4543" stroke-width="1.1">
<rect x="887.3" y="821.6" width="718" height="198.4"/>
<line x1="1054.4" y1="821.6" x2="1054.4" y2="1020"/>
<line x1="1123" y1="865.8" x2="1123" y2="1020"/>
<line x1="1194.4" y1="865.8" x2="1194.4" y2="1020"/>
<line x1="1264.4" y1="865.8" x2="1264.4" y2="1020"/>
<line x1="1333.5" y1="821.6" x2="1333.5" y2="1020"/>
<line x1="1399.3" y1="865.8" x2="1399.3" y2="1020"/>
<line x1="1469.1" y1="865.8" x2="1469.1" y2="1020"/>
<line x1="1539.3" y1="865.8" x2="1539.3" y2="1020"/>
<line x1="1054.4" y1="865.8" x2="1605.3" y2="865.8"/>
<line x1="887.3" y1="907.7" x2="1605.3" y2="907.7"/>
<line x1="887.3" y1="949.5" x2="1605.3" y2="949.5"/>
<line x1="887.3" y1="985.3" x2="1605.3" y2="985.3"/>
</g>
<g font-family="Liberation Sans, sans-serif" fill="#231815" font-size="23.5px">
<text x="971" y="874" text-anchor="middle" font-size="24px">&#1052;&#1086;&#1076;&#1077;&#1083;&#1100;</text>
<text x="1068" y="852.3" text-anchor="start" font-size="23.8px">&#1042;&#1085;&#1077;&#1096;&#1085;&#1080;&#1077; &#1088;&#1072;&#1079;&#1084;&#1077;&#1088;&#1099;</text>
<text x="1345.5" y="852.3" text-anchor="start" font-size="23.8px">&#1042;&#1085;&#1091;&#1090;&#1088;&#1077;&#1085;&#1085;&#1080;&#1077; &#1088;&#1072;&#1079;&#1084;&#1077;&#1088;&#1099;</text>
<text x="1089.8" y="895.3" text-anchor="middle" font-size="22px">A</text>
<text x="1160.5" y="895.3" text-anchor="middle" font-size="22px">B</text>
<text x="1229" y="895.3" text-anchor="middle" font-size="22px">C1</text>
<text x="1301" y="895.3" text-anchor="middle" font-size="22px">C2</text>
<text x="1363.3" y="895.3" text-anchor="middle" font-size="22px">a</text>
<text x="1435.3" y="895.3" text-anchor="middle" font-size="22px">b</text>
<text x="1505.1" y="895.3" text-anchor="middle" font-size="22px">c1</text>
<text x="1572.1" y="895.3" text-anchor="middle" font-size="22px">c2</text>
<text x="967" y="937.7" text-anchor="middle" font-size="23.7px">WR-29C</text>
<text x="1112.8" y="939.9" text-anchor="end" font-size="21.4px" fill="#2e2624">975</text>
<text x="1177.6" y="939.9" text-anchor="end" font-size="21.4px" fill="#2e2624">430</text>
<text x="1228.8" y="938.3" text-anchor="middle" font-size="22.5px">58</text>
<text x="1301" y="938.3" text-anchor="middle" font-size="22.5px">105</text>
<text x="1387.8" y="939.9" text-anchor="end" font-size="21.4px" fill="#2e2624">912</text>
<text x="1451.8" y="939.9" text-anchor="end" font-size="21.4px" fill="#2e2624">370</text>
<text x="1503.5" y="938.3" text-anchor="middle" font-size="22.5px">45</text>
<text x="1575.3" y="938.3" text-anchor="middle" font-size="22.5px">90</text>
<text x="967" y="974" text-anchor="middle" font-size="23.7px">WR-29D</text>
<text x="1112.8" y="976.2" text-anchor="end" font-size="21.4px" fill="#2e2624">1133</text>
<text x="1177.6" y="976.2" text-anchor="end" font-size="21.4px" fill="#2e2624">422</text>
<text x="1228.8" y="974.6" text-anchor="middle" font-size="22.5px">58</text>
<text x="1301" y="974.6" text-anchor="middle" font-size="22.5px">97</text>
<text x="1387.8" y="976.2" text-anchor="end" font-size="21.4px" fill="#2e2624">1066</text>
<text x="1451.8" y="976.2" text-anchor="end" font-size="21.4px" fill="#2e2624">368</text>
<text x="1503.5" y="974.6" text-anchor="middle" font-size="22.5px">44</text>
<text x="1575.3" y="974.6" text-anchor="middle" font-size="22.5px">92</text>
<text x="967" y="1010.5" text-anchor="middle" font-size="23.7px">WR-29E</text>
<text x="1112.8" y="1012.7" text-anchor="end" font-size="21.4px" fill="#2e2624">1346</text>
<text x="1177.6" y="1012.7" text-anchor="end" font-size="21.4px" fill="#2e2624">394</text>
<text x="1228.8" y="1011.1" text-anchor="middle" font-size="22.5px">58</text>
<text x="1301" y="1011.1" text-anchor="middle" font-size="22.5px">107</text>
<text x="1387.8" y="1012.7" text-anchor="end" font-size="21.4px" fill="#2e2624">1270</text>
<text x="1451.8" y="1012.7" text-anchor="end" font-size="21.4px" fill="#2e2624">335</text>
<text x="1503.5" y="1011.1" text-anchor="middle" font-size="22.5px">48</text>
<text x="1575.3" y="1011.1" text-anchor="middle" font-size="22.5px">90</text>
</g>
</svg>
</body></html>
